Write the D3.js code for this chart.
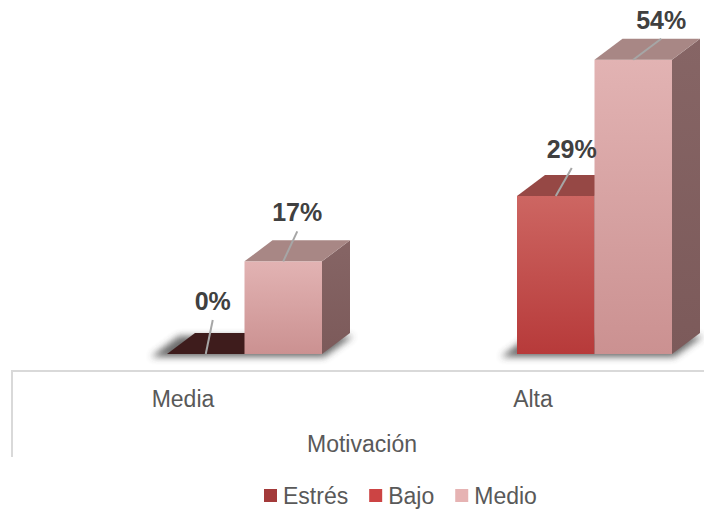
<!DOCTYPE html>
<html>
<head>
<meta charset="utf-8">
<script src="https://cdn.jsdelivr.net/npm/d3@7"></script>
<style>
  html, body { margin: 0; padding: 0; background: #ffffff; }
  svg { display: block; font-family: "Liberation Sans", Arial, sans-serif; }
</style>
</head>
<body>
<script>
// ---- data ----
const categories = ["Media", "Alta"];
const seriesNames = ["Estrés", "Bajo", "Medio"];
const estresValues = [0, null];
const bajoValues = [null, 29];
const medioValues = [17, 54];
const axisTitle = "Motivación";

// ---- layout / style (not data) ----
const W = 704, H = 511;
const depthX = 28, depthY = -21;
const seriesStyle = {
  "Estrés": { top: "#3e1c1c", frontA: "#a83e3e", frontB: "#8e2e2e", side: "#5a2020", legend: "#a33a3a" },
  "Bajo":   { top: "#964845", frontA: "#cd6662", frontB: "#b73a3a", side: "#7a3434", legend: "#cc4444" },
  "Medio":  { top: "#a88785", frontA: "#e2b3b3", frontB: "#cb9191", side: "#866565", sideB: "#7c5a5a", legend: "#e6b3b3" }
};
// label offsets relative to the front-top centre of each bar
const labelNudge = {
  "Media|Estrés": [7, -44],
  "Media|Medio": [14, -40],
  "Alta|Bajo": [16, -38],
  "Alta|Medio": [28, -31]
};

const svg = d3.select("body").append("svg").attr("width", W).attr("height", H);
const defs = svg.append("defs");

seriesNames.forEach((s, i) => {
  const st = seriesStyle[s];
  const g = defs.append("linearGradient").attr("id", "front" + i).attr("x1", 0).attr("y1", 0).attr("x2", 0).attr("y2", 1);
  g.append("stop").attr("offset", "0%").attr("stop-color", st.frontA);
  g.append("stop").attr("offset", "100%").attr("stop-color", st.frontB);
  const gs = defs.append("linearGradient").attr("id", "side" + i).attr("x1", 0).attr("y1", 0).attr("x2", 0).attr("y2", 1);
  gs.append("stop").attr("offset", "0%").attr("stop-color", st.side);
  gs.append("stop").attr("offset", "100%").attr("stop-color", st.sideB || st.side);
});
defs.append("filter").attr("id", "blur").attr("x", "-20%").attr("y", "-50%").attr("width", "140%").attr("height", "200%")
  .append("feGaussianBlur").attr("stdDeviation", 3.5);

const seriesValues = [estresValues, bajoValues, medioValues];

const x = d3.scaleBand().domain(categories).range([8, 708]);
const y = d3.scaleLinear().domain([0, 60]).range([354, 27]);

// axis frame
svg.append("line").attr("x1", 12).attr("x2", 704).attr("y1", 371).attr("y2", 371)
  .attr("stroke", "#d9d9d9").attr("stroke-width", 2);
svg.append("line").attr("x1", 12).attr("x2", 12).attr("y1", 370).attr("y2", 457)
  .attr("stroke", "#d9d9d9").attr("stroke-width", 2);

// category labels
svg.selectAll("text.cat").data(categories).enter().append("text")
  .attr("class", "cat")
  .attr("x", d => x(d) + x.bandwidth() / 2)
  .attr("y", 407)
  .attr("text-anchor", "middle")
  .attr("font-size", 23)
  .attr("fill", "#595959")
  .text(d => d);

svg.append("text").attr("x", 362).attr("y", 452).attr("text-anchor", "middle")
  .attr("font-size", 23).attr("fill", "#595959").text(axisTitle);

const barsG = svg.append("g");
const labelsG = svg.append("g");

categories.forEach((cat, ci) => {
  const present = seriesNames.map((s, si) => ({ s, si, v: seriesValues[si][ci] })).filter(d => d.v !== null);
  const inner = d3.scaleBand().domain(d3.range(present.length)).range([0, 155]);
  const x0 = x(cat) + x.bandwidth() / 2 - 16;
  const yb = y(0);

  // floor shadow
  const sxl = x0 + inner(0), sxr = x0 + inner(present.length - 1) + inner.bandwidth();
  barsG.append("polygon")
    .attr("points", [[sxl - 16, yb + 3], [sxr + 2, yb + 3], [sxr + depthX + 3, yb + depthY + 3], [sxl + depthX - 16, yb + depthY + 3]].join(" "))
    .attr("fill", "#3a3a3a").attr("opacity", 0.75).attr("filter", "url(#blur)");

  present.forEach((d, k) => {
    const xl = x0 + inner(k), xr = xl + inner.bandwidth();
    const yt = y(d.v);
    const st = seriesStyle[d.s];
    const g = barsG.append("g");
    if (yb - yt > 0.5) {
      g.append("rect").attr("x", xl).attr("y", yt).attr("width", xr - xl).attr("height", yb - yt)
        .attr("fill", `url(#front${d.si})`);
      g.append("polygon")
        .attr("points", [[xr, yt], [xr + depthX, yt + depthY], [xr + depthX, yb + depthY], [xr, yb]].join(" "))
        .attr("fill", `url(#side${d.si})`);
    }
    g.append("polygon")
      .attr("points", [[xl, yt], [xr, yt], [xr + depthX, yt + depthY], [xl + depthX, yt + depthY]].join(" "))
      .attr("fill", st.top);

    const nudge = labelNudge[cat + "|" + d.s] || [14, -38];
    const cx = (xl + xr) / 2;
    const lx = cx + nudge[0], ly = yt + nudge[1];
    labelsG.append("line").attr("x1", cx).attr("y1", yt).attr("x2", lx).attr("y2", ly + 10)
      .attr("stroke", "#a6a6a6").attr("stroke-width", 2);
    labelsG.append("text").attr("x", lx).attr("y", ly).attr("text-anchor", "middle")
      .attr("font-size", 25).attr("font-weight", "bold").attr("fill", "#404040")
      .text(d3.format(".0f")(d.v) + "%");
  });
});

// legend
const legend = svg.append("g");
let lx = 264;
seriesNames.forEach((s) => {
  legend.append("rect").attr("x", lx).attr("y", 489).attr("width", 13).attr("height", 13)
    .attr("fill", seriesStyle[s].legend);
  const t = legend.append("text").attr("x", lx + 19).attr("y", 504).attr("font-size", 23)
    .attr("fill", "#595959").text(s);
  lx += 19 + t.node().getComputedTextLength() + 21;
});
</script>
</body>
</html>
